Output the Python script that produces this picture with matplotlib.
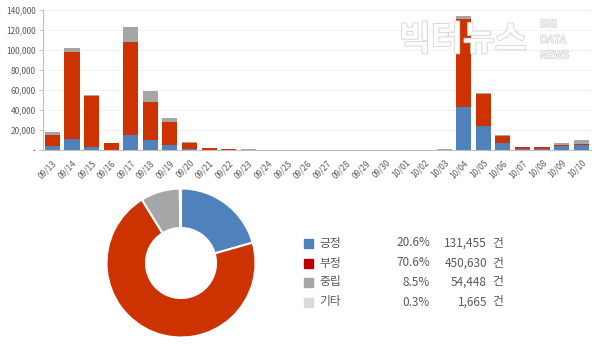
import matplotlib.pyplot as plt
import matplotlib.patheffects as pe
import numpy as np

plt.rcParams["font.family"] = ["Noto Sans CJK KR", "DejaVu Sans"]

dates = ["09/13", "09/14", "09/15", "09/16", "09/17", "09/18", "09/19",
         "09/20", "09/21", "09/22", "09/23", "09/24", "09/25", "09/26",
         "09/27", "09/28", "09/29", "09/30", "10/01", "10/02", "10/03",
         "10/04", "10/05", "10/06", "10/07", "10/08", "10/09", "10/10"]
positive = [3500, 10500, 2500, 300, 14500, 10000, 5000, 500, 200, 100, 100,
            50, 50, 30, 30, 30, 30, 30, 50, 50, 100,
            43000, 23500, 6500, 1000, 800, 3800, 5000]
negative = [11000, 88000, 51000, 6500, 94000, 38000, 22500, 6800, 1500, 800,
            200, 100, 100, 50, 50, 50, 50, 50, 100, 150, 200,
            88000, 32000, 7500, 1500, 1800, 1500, 800]
neutral = [3000, 4000, 1500, 300, 15000, 10500, 4000, 300, 100, 100, 300,
           100, 100, 50, 50, 50, 50, 50, 100, 150, 200,
           3500, 1800, 1000, 500, 200, 2000, 4000]

labels = ["긍정", "부정", "중립", "기타"]
shares = ["20.6%", "70.6%", "8.5%", "0.3%"]
counts = [131455, 450630, 54448, 1665]

c_blue = "#4F81BD"
c_red = "#CC3300"
c_gray = "#A6A6A6"
c_light = "#D9D9D9"
txt = "#595959"

fig = plt.figure(figsize=(6, 3.47), dpi=100)

# stacked bars
ax = fig.add_axes([0.071, 0.568, 0.914, 0.403])
x = np.arange(len(dates))
pos = np.array(positive)
neg = np.array(negative)
neu = np.array(neutral)
ax.bar(x, pos, width=0.77, color=c_blue, zorder=2)
ax.bar(x, neg, width=0.77, bottom=pos, color=c_red, zorder=2)
ax.bar(x, neu, width=0.77, bottom=pos + neg, color=c_gray, zorder=2)
ax.set_xlim(-0.5, len(dates) - 0.5)
ax.set_ylim(0, 140000)
yt = np.arange(0, 140001, 20000)
ax.set_yticks(yt)
ax.set_yticklabels(["-"] + [f"{v:,}" for v in yt[1:]])
ax.set_xticks(x)
ax.set_xticklabels(dates, rotation=45, ha="right", rotation_mode="anchor")
ax.tick_params(axis="x", length=0, pad=6, labelsize=6, labelcolor=txt)
ax.tick_params(axis="y", length=3, width=0.6, color="#BFBFBF", pad=2,
               labelsize=6, labelcolor=txt)
ax.grid(axis="y", color="#EFEFEF", linewidth=0.6, zorder=0)
for s in ["top", "right"]:
    ax.spines[s].set_visible(False)
for s in ["left", "bottom"]:
    ax.spines[s].set_color("#BFBFBF")
    ax.spines[s].set_linewidth(0.8)

# watermark
wm = fig.text(0.665, 0.885, "빅터뉴스", fontsize=25, fontweight="bold",
              color="white", alpha=0.9, va="center", ha="left")
wm.set_path_effects([pe.withStroke(linewidth=1.2, foreground="#D0D0D0")])
for i, w in enumerate(["BIG", "DATA", "NEWS"]):
    t = fig.text(0.9, 0.93 - i * 0.045, w, fontsize=7.5, color="white",
                 va="center", ha="left")
    t.set_path_effects([pe.withStroke(linewidth=1.0, foreground="#D0D0D0")])

# donut
ax2 = fig.add_axes([105 / 600, 1 - 339 / 347, 152 / 600, 152 / 347])
ax2.pie(counts, colors=[c_blue, c_red, c_gray, c_light], startangle=90,
        counterclock=False,
        wedgeprops=dict(width=0.53, edgecolor="white", linewidth=1.5))
ax2.set_xlim(-1.02, 1.02)
ax2.set_ylim(-1.02, 1.02)
ax2.set_aspect("equal")

# legend
legend_colors = [c_blue, "#C00000", c_gray, c_light]
rows_y = [243, 263, 282, 302]
for lab, sh, cnt, col, yy in zip(labels, shares, counts, legend_colors, rows_y):
    fy = 1 - yy / 347
    fig.patches.append(plt.Rectangle((304 / 600, fy - 4.5 / 347), 9 / 600,
                                     9 / 347, color=col,
                                     transform=fig.transFigure, figure=fig))
    fig.text(319 / 600, fy, lab, fontsize=8.5, color=txt, va="center",
             ha="left")
    fig.text(430 / 600, fy, sh, fontsize=8.5, color=txt, va="center",
             ha="right")
    fig.text(487 / 600, fy, f"{cnt:,}", fontsize=8.5, color=txt,
             va="center", ha="right")
    fig.text(492 / 600, fy, "건", fontsize=8.5, color=txt, va="center",
             ha="left")

fig.savefig("out.png", dpi=100)
